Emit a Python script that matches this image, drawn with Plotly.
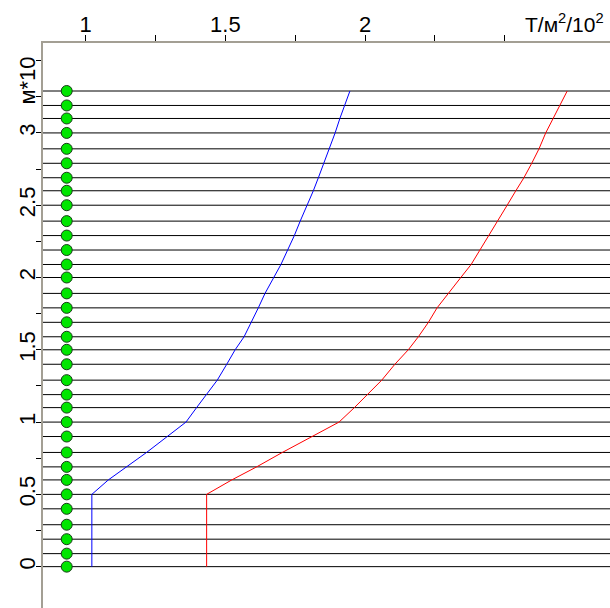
import plotly.graph_objects as go

# Layer depths (м*10)
depths = [0, 0.09, 0.19, 0.29, 0.40, 0.50, 0.60, 0.69, 0.79, 0.90,
          1.00, 1.10, 1.19, 1.29, 1.40, 1.50, 1.59, 1.69, 1.79, 1.89,
          2.00, 2.09, 2.19, 2.29, 2.39, 2.50, 2.60, 2.69, 2.79, 2.89,
          3.00, 3.10, 3.19, 3.29]

# Blue curve (T/м²/10²)
blue_vals = [1.022, 1.022, 1.022, 1.022, 1.022, 1.022, 1.081, 1.147, 1.218, 1.292,
             1.359, 1.397, 1.433, 1.471, 1.505, 1.535, 1.567, 1.594, 1.618, 1.642,
             1.672, 1.699, 1.723, 1.747, 1.768, 1.793, 1.815, 1.833, 1.853, 1.871,
             1.893, 1.910, 1.926, 1.946]

# Red curve (T/м²/10²)
red_vals = [1.433, 1.433, 1.433, 1.433, 1.433, 1.433, 1.523, 1.612, 1.704, 1.809,
            1.907, 1.962, 2.010, 2.060, 2.107, 2.155, 2.191, 2.227, 2.258, 2.300,
            2.343, 2.380, 2.412, 2.441, 2.474, 2.509, 2.540, 2.569, 2.597, 2.623,
            2.647, 2.674, 2.698, 2.724]

# Marker column position
marker_x = 0.932

x_tickvals = [1, 1.5, 2]
x_ticktext = ["1", "1.5", "2"]
x_minor_ticks = [1.25, 1.75, 2.25, 2.5]
y_tickvals = [0, 0.5, 1, 1.5, 2, 2.5, 3]
y_ticktext = ["0", "0.5", "1", "1.5", "2", "2.5", "3"]
y_minor_ticks = [0.25, 0.75, 1.25, 1.75, 2.25, 2.75, 3.25, 3.5]
x_unit = "T/м<sup>2</sup>/10<sup>2</sup>"
y_unit = "м*10"

FONT = "Liberation Sans"
AXIS_COLOR = "#a39f94"

fig = go.Figure()

# horizontal layer lines
for d in depths:
    fig.add_shape(type="line", xref="paper", x0=0, x1=1, yref="y", y0=d, y1=d,
                  line=dict(color="black", width=1), layer="below")

fig.add_trace(go.Scatter(x=blue_vals, y=depths, mode="lines",
                         line=dict(color="#0000ff", width=1), showlegend=False))
fig.add_trace(go.Scatter(x=red_vals, y=depths, mode="lines",
                         line=dict(color="#ff0000", width=1), showlegend=False))
fig.add_trace(go.Scatter(x=[marker_x] * len(depths), y=depths, mode="markers",
                         marker=dict(color="#00e600", size=11,
                                     line=dict(color="#1a3a1a", width=1)),
                         showlegend=False, cliponaxis=False))

fig.update_layout(
    width=610, height=608,
    margin=dict(l=43, r=0, t=43, b=0),
    paper_bgcolor="white", plot_bgcolor="white",
    font=dict(family=FONT, color="black"),
    xaxis=dict(range=[0.8471, 2.8772], side="top", showline=True, automargin=False,
               linecolor=AXIS_COLOR, linewidth=2, ticks="outside", ticklen=6,
               tickcolor="black", tickwidth=1, tickvals=x_tickvals,
               ticktext=x_ticktext, showgrid=False, zeroline=False,
               ticklabelstandoff=-6,
               minor=dict(tickvals=x_minor_ticks, ticks="outside", ticklen=6,
                          tickcolor="black", tickwidth=1, showgrid=False),
               tickfont=dict(size=22, family=FONT, color="black")),
    yaxis=dict(range=[-0.286, 3.622], showline=True, linecolor=AXIS_COLOR,
               automargin=False,
               linewidth=2, ticks="outside", ticklen=5, tickcolor="black",
               tickwidth=1, tickvals=y_tickvals, ticktext=y_ticktext,
               ticklabelstandoff=-8,
               minor=dict(tickvals=y_minor_ticks, ticks="outside", ticklen=5,
                          tickcolor="black", tickwidth=1, showgrid=False),
               tickangle=-90, showgrid=False, zeroline=False,
               tickfont=dict(size=22, family=FONT, color="black")),
    annotations=[
        dict(text=x_unit, xref="paper", yref="paper", x=0.993, y=1,
             xanchor="right", yanchor="bottom", yshift=5, showarrow=False,
             font=dict(size=21, family=FONT, color="black")),
        dict(text=y_unit, xref="paper", yref="y", x=-0.027, y=3.36,
             xanchor="center", yanchor="middle", textangle=-90, showarrow=False,
             font=dict(size=22, family=FONT, color="black")),
    ],
)

fig.write_html("out.html", config={"displayModeBar": False},
               post_script="document.body.style.margin='0';document.body.style.padding='0';")
